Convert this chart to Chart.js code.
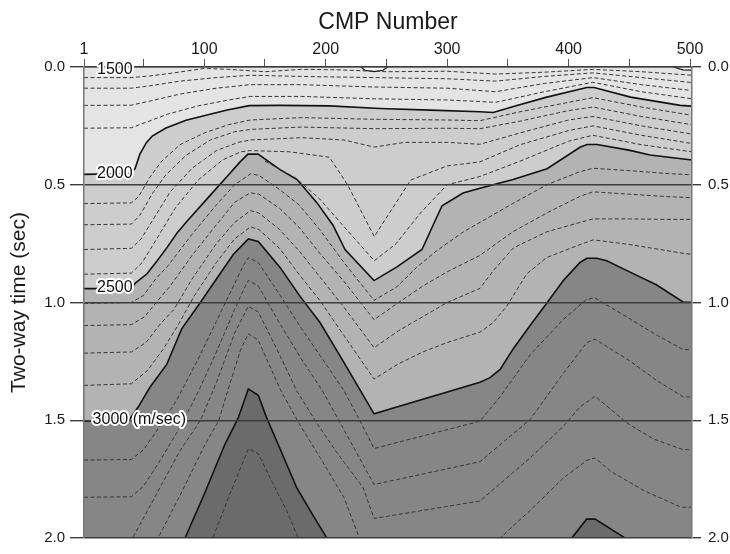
<!DOCTYPE html>
<html>
<head>
<meta charset="utf-8">
<script src="https://cdn.jsdelivr.net/npm/chart.js@4.4.1/dist/chart.umd.min.js"></script>
<style>
  html, body { margin: 0; padding: 0; background: #fff; }
</style>
</head>
<body>
<canvas id="chart" width="730" height="554"></canvas>
<script>
// axis ticks
const xTickValues = [1, 50, 100, 150, 200, 250, 300, 350, 400, 450, 500];
const xTickLabels = { 1: '1', 100: '100', 200: '200', 300: '300', 400: '400', 500: '500' };
const yTickValues = [0, 0.5, 1.0, 1.5, 2.0];

// contour lines, [CMP number, two-way time (sec)]
const c1500 = [[1, 0], [501.6, 0]];
const c1500a = [[229, 0], [232.4, 0.014], [239.8, 0.02], [247.1, 0.014], [251, 0]];
const c1500b = [[486, 0], [494.3, 0.012], [501.6, 0.013]];
const c1600 = [[1,0.045],[40,0.045],[55,0.038],[75,0.025],[100,0.006],[120,0.01],[150,0.02],[180,0.01],[210,0.012],[250,0.02],[300,0.018],[340,0.03],[380,0.022],[420,0.01],[460,0.02],[501.6,0.035]];
const c1700 = [[1,0.09],[40,0.09],[55,0.08],[80,0.06],[110,0.045],[138,0.035],[180,0.04],[240,0.045],[300,0.05],[340,0.06],[380,0.04],[420,0.025],[460,0.045],[501.6,0.066]];
const c1800 = [[1,0.163],[40,0.162],[55,0.145],[80,0.115],[110,0.09],[138,0.075],[180,0.075],[240,0.085],[300,0.09],[340,0.105],[380,0.07],[420,0.045],[460,0.075],[501.6,0.1]];
const c1900 = [[1,0.26],[40,0.258],[52,0.235],[70,0.2],[95,0.165],[120,0.14],[138,0.125],[180,0.125],[240,0.135],[300,0.14],[340,0.15],[380,0.105],[420,0.065],[460,0.105],[501.6,0.135]];
const c2000 = [[1,0.456],[38,0.452],[43,0.432],[47,0.37],[52.5,0.32],[57.5,0.292],[68.5,0.259],[85,0.226],[101.5,0.205],[118,0.184],[137,0.164],[162,0.163],[203,0.165],[244.7,0.176],[286,0.183],[327,0.19],[338,0.193],[354.6,0.168],[382,0.128],[415,0.087],[421,0.087],[451,0.128],[492,0.163],[501.6,0.166]];
const c2100 = [[1,0.58],[40,0.577],[46,0.55],[55,0.47],[65,0.4],[80,0.33],[100,0.28],[120,0.245],[138,0.225],[180,0.215],[240,0.222],[300,0.225],[327,0.228],[360,0.19],[400,0.15],[420,0.13],[460,0.17],[501.6,0.205]];
const c2200 = [[1,0.67],[40,0.667],[47,0.63],[57,0.54],[68,0.46],[85,0.375],[105,0.31],[125,0.275],[138,0.265],[180,0.255],[240,0.262],[300,0.26],[327,0.262],[360,0.23],[400,0.185],[420,0.17],[460,0.21],[501.6,0.245]];
const c2300 = [[1,0.775],[40,0.77],[48,0.73],[60,0.63],[72,0.53],[90,0.43],[110,0.355],[128,0.32],[138,0.31],[180,0.3],[215,0.31],[240,0.34],[265,0.32],[300,0.32],[327,0.328],[360,0.28],[400,0.225],[420,0.21],[460,0.25],[501.6,0.285]];
const c2400 = [[1,0.88],[40,0.875],[49,0.83],[62,0.72],[76,0.6],[95,0.48],[115,0.395],[130,0.36],[138,0.355],[170,0.36],[203,0.383],[218,0.5],[240,0.72],[255,0.6],[270,0.48],[300,0.42],[327,0.403],[360,0.33],[400,0.27],[420,0.25],[460,0.29],[501.6,0.325]];
const c2450 = [[150,0.4],[175,0.47],[195,0.56],[212,0.66],[240,0.823],[258,0.75],[278,0.62],[300,0.5],[327,0.465],[360,0.4],[400,0.315],[420,0.29],[460,0.33],[501.6,0.36]];
const c2500 = [[1,0.941],[40,0.94],[43,0.919],[52.9,0.878],[61.1,0.824],[69.3,0.767],[77.6,0.705],[85.8,0.655],[102.3,0.56],[118.8,0.465],[129.5,0.403],[136,0.37],[144.3,0.37],[162.4,0.436],[176.4,0.478],[192.9,0.577],[206,0.672],[215.9,0.775],[239.8,0.907],[258.7,0.849],[279.3,0.775],[288.4,0.672],[295.8,0.589],[313.1,0.535],[327,0.515],[354.3,0.478],[382.3,0.432],[409.4,0.341],[415.2,0.329],[423.4,0.329],[450.6,0.354],[467,0.374],[501.6,0.395]];
const c2600 = [[1,1.004],[40,1.0],[50,0.97],[60,0.9],[70,0.845],[90,0.71],[110,0.585],[125,0.5],[138,0.454],[145,0.46],[162,0.52],[178,0.585],[195,0.69],[215,0.83],[239.8,0.991],[258.7,0.933],[275,0.85],[291.5,0.78],[313.4,0.7],[327,0.66],[354,0.58],[382,0.5],[409,0.445],[420,0.43],[450,0.44],[480,0.452],[501.6,0.458]];
const c2700 = [[1,1.098],[40,1.094],[51,1.06],[62,0.99],[72,0.93],[90,0.8],[110,0.67],[125,0.575],[138,0.534],[145,0.54],[162,0.6],[178,0.68],[195,0.79],[215,0.91],[239.8,1.073],[260,1.0],[280,0.93],[300,0.87],[327,0.8],[354,0.7],[382,0.62],[409,0.55],[420,0.53],[450,0.54],[480,0.55],[501.6,0.555]];
const c2800 = [[1,1.215],[40,1.21],[52,1.17],[64,1.09],[75,1.03],[90,0.9],[110,0.75],[125,0.66],[138,0.61],[145,0.62],[162,0.69],[178,0.78],[195,0.89],[215,1.02],[239.8,1.192],[260,1.12],[280,1.06],[300,1.0],[327,0.94],[338,0.865],[354.6,0.768],[382,0.7],[409.4,0.66],[420,0.645],[450,0.645],[480,0.647],[501.6,0.647]];
const c2900 = [[1,1.352],[40,1.345],[53,1.29],[66,1.2],[78,1.1],[92,0.97],[110,0.83],[125,0.73],[138,0.679],[145,0.69],[162,0.77],[178,0.88],[195,0.99],[215,1.14],[239.8,1.325],[260,1.26],[280,1.21],[300,1.17],[327,1.126],[338,1.085],[349,1.016],[365.6,0.878],[382,0.809],[409.4,0.754],[420.4,0.734],[450.6,0.754],[491.8,0.789],[501.6,0.796]];
const c3000 = [[1,1.504],[38,1.5],[45.7,1.443],[55.3,1.36],[69.1,1.263],[81.4,1.112],[96.5,1.002],[113,0.878],[123.9,0.796],[136.3,0.73],[144.5,0.741],[162.4,0.851],[178.9,0.974],[195.3,1.085],[214.5,1.25],[239.8,1.473],[327,1.339],[335.3,1.319],[343.6,1.284],[354.6,1.195],[368.3,1.098],[382.1,1.002],[395.8,0.906],[409.4,0.83],[415,0.812],[423.2,0.812],[431.4,0.823],[450.6,0.871],[472.6,0.926],[494.5,0.999],[501.6,0.999]];
const c3100 = [[1,1.669],[40,1.667],[50,1.625],[63.6,1.525],[77.3,1.415],[95,1.24],[110,1.08],[125,0.92],[132,0.845],[136.3,0.81],[144.5,0.83],[160,0.95],[180,1.11],[200,1.26],[215,1.374],[228,1.5],[239.8,1.62],[327,1.504],[343.6,1.4],[368.3,1.222],[395.8,1.071],[415,0.986],[421.8,0.981],[451,1.071],[473,1.14],[494.5,1.2],[501.6,1.2]];
const c3200 = [[1,1.827],[40,1.825],[50,1.78],[65,1.66],[80,1.53],[95,1.38],[110,1.21],[125,1.03],[132,0.95],[136.3,0.906],[144.5,0.93],[160,1.07],[180,1.24],[197.2,1.374],[215,1.54],[239.8,1.773],[327,1.676],[368.3,1.497],[395.8,1.3],[415,1.17],[421.8,1.156],[451,1.25],[473,1.333],[494.5,1.401],[501.6,1.401]];
const c3300 = [[30,2.15],[41,2.0],[60,1.82],[80,1.63],[97,1.5],[110,1.34],[125,1.13],[136.3,1.016],[144.5,1.04],[160,1.2],[176,1.373],[192.5,1.511],[208.9,1.635],[230.8,1.786],[239.8,1.917],[327,1.843],[368.3,1.66],[395.8,1.525],[409.4,1.443],[421.8,1.398],[448,1.511],[470,1.58],[494.5,1.625],[501.6,1.625]];
const c3400 = [[55,2.15],[62,2.0],[80,1.82],[100,1.61],[112,1.5],[122,1.33],[130,1.2],[136.3,1.133],[144.5,1.16],[163,1.374],[179.4,1.525],[195.8,1.662],[215,1.828],[227.3,1.994],[240,2.2],[330,2.2],[343.6,2.0],[368.3,1.883],[395.8,1.745],[415,1.67],[421.8,1.66],[435,1.718],[462.5,1.8],[492.5,1.869],[501.6,1.869]];
const c3500 = [[1,2.2],[67.7,2.2],[84.2,2.0],[100.6,1.807],[117.1,1.601],[128,1.49],[136.3,1.367],[144.5,1.394],[151.4,1.49],[162.4,1.621],[176.1,1.786],[187.1,1.883],[200.9,2.0],[216,2.2],[390,2.2],[402.6,2.0],[414.9,1.92],[421.8,1.92],[446.5,2.0],[460,2.2],[501.6,2.2]];
const c3600 = [[95,2.15],[107,2.0],[121.1,1.814],[136.3,1.621],[144.5,1.642],[156.9,1.773],[167.8,1.883],[177.4,2.0],[188,2.15]];

// in-line contour labels
const labelText = ['1500', '2000', '2500', '3000 (m/sec)'];
const labelCmp = [11.7, 11.7, 11.7, 8.1];
const labelTime = [0.013, 0.452, 0.937, 1.497];

const FONT = '"Liberation Sans", Arial, Helvetica, sans-serif';
const pts = arr => arr.map(([x, y]) => ({ x, y }));

// band fill from a solid contour down to the bottom (2.0 s)
const solid = (data, fillColor, order) => ({
  data: pts(data),
  borderColor: '#111',
  borderWidth: 1.6,
  backgroundColor: fillColor,
  fill: { value: 2 },
  order: order,
  pointRadius: 0,
  tension: 0,
  clip: 0
});
const dashed = data => ({
  data: pts(data),
  borderColor: '#363636',
  borderWidth: 1,
  borderDash: [4, 2.5],
  fill: false,
  order: 1,
  pointRadius: 0,
  tension: 0,
  clip: 0
});
const topArc = data => ({
  data: pts(data),
  borderColor: '#111',
  borderWidth: 1.2,
  backgroundColor: '#ffffff',
  fill: { value: 0 },
  order: 5,
  pointRadius: 0,
  tension: 0,
  clip: 0
});

const datasets = [
  Object.assign(solid(c1500, '#e4e4e4', 20), { borderWidth: 0 }),
  solid(c2000, '#cdcdcd', 14),
  solid(c2500, '#b3b3b3', 13),
  solid(c3000, '#868686', 12),
  solid(c3500, '#6b6b6b', 11),
  topArc(c1500a),
  topArc(c1500b),
  dashed(c1600), dashed(c1700), dashed(c1800), dashed(c1900),
  dashed(c2100), dashed(c2200), dashed(c2300), dashed(c2400), dashed(c2450),
  dashed(c2600), dashed(c2700), dashed(c2800), dashed(c2900),
  dashed(c3100), dashed(c3200), dashed(c3300), dashed(c3400),
  dashed(c3600)
];

const contourLabels = {
  id: 'contourLabels',
  afterDraw(chart) {
    const { ctx, scales: { x, y } } = chart;
    ctx.save();
    ctx.font = '16px ' + FONT;
    ctx.textBaseline = 'middle';
    ctx.textAlign = 'left';
    ctx.lineJoin = 'round';
    labelText.forEach((text, i) => {
      const px = x.getPixelForValue(labelCmp[i]);
      const py = y.getPixelForValue(labelTime[i]);
      ctx.strokeStyle = '#fff';
      ctx.lineWidth = 4;
      ctx.strokeText(text, px, py);
      ctx.fillStyle = '#111';
      ctx.fillText(text, px, py);
    });
    ctx.restore();
  }
};

const tickFont = { family: FONT, size: 16 };

new Chart(document.getElementById('chart'), {
  type: 'line',
  data: { datasets },
  plugins: [contourLabels],
  options: {
    responsive: false,
    animation: false,
    events: [],
    layout: { padding: { top: 0, left: 0, right: 0, bottom: 2 } },
    plugins: {
      legend: { display: false },
      tooltip: { enabled: false }
    },
    scales: {
      x: {
        type: 'linear',
        position: 'top',
        min: 1,
        max: 501.6,
        afterBuildTicks: s => { s.ticks = xTickValues.map(v => ({ value: v })); },
        afterFit: s => { s.height = 67; },
        ticks: {
          callback: v => xTickLabels[v] || '',
          font: tickFont,
          color: '#1a1a1a',
          padding: 0,
          maxRotation: 0,
          autoSkip: false
        },
        grid: { drawOnChartArea: false, tickLength: 8, color: '#555', lineWidth: 1, z: 1 },
        border: { display: true, color: '#777', width: 1.5, z: 1 },
        title: {
          display: true,
          text: 'CMP Number',
          font: { family: FONT, size: 23 },
          color: '#1a1a1a',
          padding: { top: 9, bottom: 0 }
        }
      },
      y: {
        type: 'linear',
        position: 'left',
        reverse: true,
        min: 0,
        max: 2,
        afterBuildTicks: s => { s.ticks = yTickValues.map(v => ({ value: v })); },
        afterFit: s => { s.width = 84; },
        ticks: {
          callback: v => Number(v).toFixed(1),
          font: { family: FONT, size: 15 },
          color: '#1a1a1a',
          padding: 5
        },
        grid: { color: '#3c3c3c', lineWidth: 1.4, tickLength: 14, z: 1 },
        border: { display: true, color: '#777', width: 1.5, z: 1 },
        title: {
          display: true,
          text: 'Two-way time (sec)',
          font: { family: FONT, size: 21 },
          color: '#1a1a1a',
          padding: { top: 7, bottom: 0 }
        }
      },
      y2: {
        type: 'linear',
        position: 'right',
        reverse: true,
        min: 0,
        max: 2,
        afterBuildTicks: s => { s.ticks = yTickValues.map(v => ({ value: v })); },
        afterFit: s => { s.width = 38; },
        ticks: {
          callback: v => Number(v).toFixed(1),
          font: { family: FONT, size: 15 },
          color: '#1a1a1a',
          padding: 7
        },
        grid: { drawOnChartArea: false, color: '#3c3c3c', lineWidth: 1.4, tickLength: 9, z: 1 },
        border: { display: true, color: '#777', width: 1.5, z: 1 }
      }
    }
  }
});
</script>
</body>
</html>
